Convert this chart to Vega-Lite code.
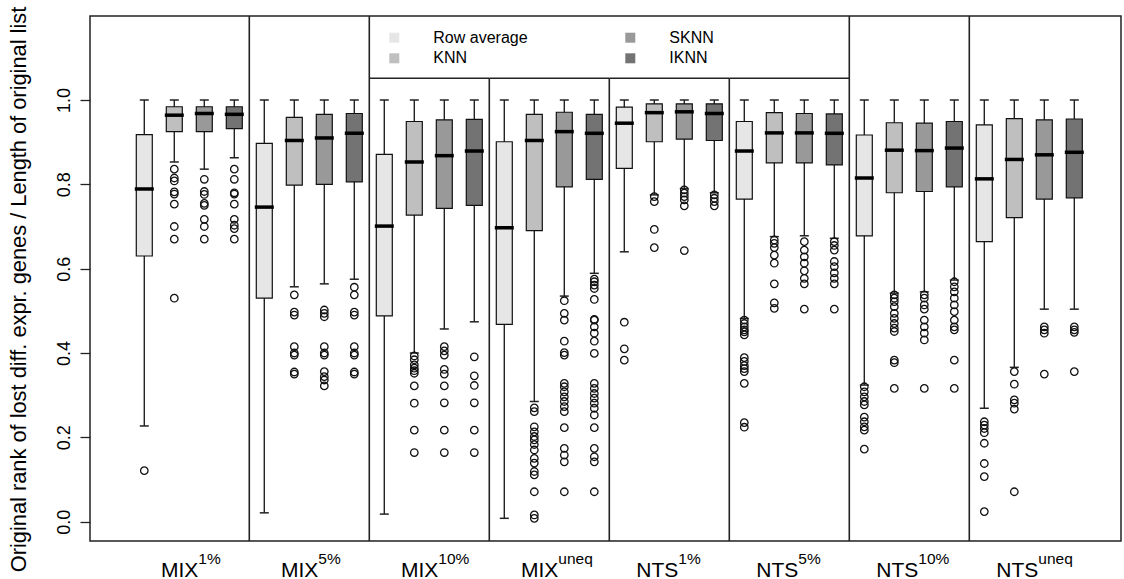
{
"$schema": "https://vega.github.io/schema/vega-lite/v6.json",
"width": 1031, "height": 525,
"autosize": "none",
"padding": {"left": 90, "top": 16, "right": 3, "bottom": 38},
"background": "white",
"config": {"font": "Liberation Sans", "view": {"stroke": "#222", "strokeWidth": 1.5}},
"datasets": {
"groups": [{"g":"MIX1%","sup":"1%"},{"g":"MIX5%","sup":"5%"},{"g":"MIX10%","sup":"10%"},{"g":"MIXuneq","sup":"uneq"},{"g":"NTS1%","sup":"1%"},{"g":"NTS5%","sup":"5%"},{"g":"NTS10%","sup":"10%"},{"g":"NTSuneq","sup":"uneq"}],
"boxes": [
{"g":"MIX1%","m":"Row average","lo":0.227,"q1":0.630,"med":0.789,"q3":0.918,"hi":1.0},
{"g":"MIX1%","m":"KNN","lo":0.853,"q1":0.925,"med":0.964,"q3":0.984,"hi":1.0},
{"g":"MIX1%","m":"SKNN","lo":0.836,"q1":0.925,"med":0.968,"q3":0.984,"hi":1.0},
{"g":"MIX1%","m":"IKNN","lo":0.863,"q1":0.932,"med":0.966,"q3":0.984,"hi":1.0},
{"g":"MIX5%","m":"Row average","lo":0.021,"q1":0.530,"med":0.746,"q3":0.897,"hi":1.0},
{"g":"MIX5%","m":"KNN","lo":0.557,"q1":0.798,"med":0.904,"q3":0.959,"hi":1.0},
{"g":"MIX5%","m":"SKNN","lo":0.564,"q1":0.800,"med":0.910,"q3":0.966,"hi":1.0},
{"g":"MIX5%","m":"IKNN","lo":0.575,"q1":0.806,"med":0.921,"q3":0.968,"hi":1.0},
{"g":"MIX10%","m":"Row average","lo":0.018,"q1":0.488,"med":0.701,"q3":0.871,"hi":1.0},
{"g":"MIX10%","m":"KNN","lo":0.400,"q1":0.727,"med":0.853,"q3":0.949,"hi":1.0},
{"g":"MIX10%","m":"SKNN","lo":0.457,"q1":0.743,"med":0.868,"q3":0.953,"hi":1.0},
{"g":"MIX10%","m":"IKNN","lo":0.474,"q1":0.750,"med":0.879,"q3":0.954,"hi":1.0},
{"g":"MIXuneq","m":"Row average","lo":0.008,"q1":0.468,"med":0.697,"q3":0.901,"hi":1.0},
{"g":"MIXuneq","m":"KNN","lo":0.285,"q1":0.690,"med":0.904,"q3":0.966,"hi":1.0},
{"g":"MIXuneq","m":"SKNN","lo":0.535,"q1":0.794,"med":0.925,"q3":0.971,"hi":1.0},
{"g":"MIXuneq","m":"IKNN","lo":0.589,"q1":0.812,"med":0.921,"q3":0.966,"hi":1.0},
{"g":"NTS1%","m":"Row average","lo":0.640,"q1":0.838,"med":0.945,"q3":0.983,"hi":1.0},
{"g":"NTS1%","m":"KNN","lo":0.775,"q1":0.901,"med":0.970,"q3":0.991,"hi":1.0},
{"g":"NTS1%","m":"SKNN","lo":0.790,"q1":0.907,"med":0.972,"q3":0.991,"hi":1.0},
{"g":"NTS1%","m":"IKNN","lo":0.780,"q1":0.904,"med":0.968,"q3":0.991,"hi":1.0},
{"g":"NTS5%","m":"Row average","lo":0.482,"q1":0.765,"med":0.879,"q3":0.949,"hi":1.0},
{"g":"NTS5%","m":"KNN","lo":0.676,"q1":0.851,"med":0.922,"q3":0.970,"hi":1.0},
{"g":"NTS5%","m":"SKNN","lo":0.678,"q1":0.851,"med":0.922,"q3":0.968,"hi":1.0},
{"g":"NTS5%","m":"IKNN","lo":0.672,"q1":0.846,"med":0.921,"q3":0.967,"hi":1.0},
{"g":"NTS10%","m":"Row average","lo":0.324,"q1":0.678,"med":0.815,"q3":0.917,"hi":1.0},
{"g":"NTS10%","m":"KNN","lo":0.542,"q1":0.780,"med":0.881,"q3":0.946,"hi":1.0},
{"g":"NTS10%","m":"SKNN","lo":0.545,"q1":0.783,"med":0.880,"q3":0.945,"hi":1.0},
{"g":"NTS10%","m":"IKNN","lo":0.573,"q1":0.794,"med":0.886,"q3":0.949,"hi":1.0},
{"g":"NTSuneq","m":"Row average","lo":0.269,"q1":0.664,"med":0.813,"q3":0.941,"hi":1.0},
{"g":"NTSuneq","m":"KNN","lo":0.366,"q1":0.721,"med":0.859,"q3":0.956,"hi":1.0},
{"g":"NTSuneq","m":"SKNN","lo":0.504,"q1":0.765,"med":0.870,"q3":0.953,"hi":1.0},
{"g":"NTSuneq","m":"IKNN","lo":0.504,"q1":0.768,"med":0.876,"q3":0.955,"hi":1.0}
],
"outliers": [
{"g":"MIX1%","m":"Row average","v":0.121},
{"g":"MIX1%","m":"KNN","v":0.836},{"g":"MIX1%","m":"KNN","v":0.815},{"g":"MIX1%","m":"KNN","v":0.808},{"g":"MIX1%","m":"KNN","v":0.782},{"g":"MIX1%","m":"KNN","v":0.777},{"g":"MIX1%","m":"KNN","v":0.753},{"g":"MIX1%","m":"KNN","v":0.700},{"g":"MIX1%","m":"KNN","v":0.670},{"g":"MIX1%","m":"KNN","v":0.530},
{"g":"MIX1%","m":"SKNN","v":0.812},{"g":"MIX1%","m":"SKNN","v":0.783},{"g":"MIX1%","m":"SKNN","v":0.776},{"g":"MIX1%","m":"SKNN","v":0.755},{"g":"MIX1%","m":"SKNN","v":0.750},{"g":"MIX1%","m":"SKNN","v":0.717},{"g":"MIX1%","m":"SKNN","v":0.700},{"g":"MIX1%","m":"SKNN","v":0.670},
{"g":"MIX1%","m":"IKNN","v":0.836},{"g":"MIX1%","m":"IKNN","v":0.812},{"g":"MIX1%","m":"IKNN","v":0.780},{"g":"MIX1%","m":"IKNN","v":0.777},{"g":"MIX1%","m":"IKNN","v":0.753},{"g":"MIX1%","m":"IKNN","v":0.717},{"g":"MIX1%","m":"IKNN","v":0.703},{"g":"MIX1%","m":"IKNN","v":0.695},{"g":"MIX1%","m":"IKNN","v":0.670},
{"g":"MIX5%","m":"KNN","v":0.538},{"g":"MIX5%","m":"KNN","v":0.497},{"g":"MIX5%","m":"KNN","v":0.490},{"g":"MIX5%","m":"KNN","v":0.415},{"g":"MIX5%","m":"KNN","v":0.400},{"g":"MIX5%","m":"KNN","v":0.395},{"g":"MIX5%","m":"KNN","v":0.355},{"g":"MIX5%","m":"KNN","v":0.350},
{"g":"MIX5%","m":"SKNN","v":0.502},{"g":"MIX5%","m":"SKNN","v":0.494},{"g":"MIX5%","m":"SKNN","v":0.486},{"g":"MIX5%","m":"SKNN","v":0.415},{"g":"MIX5%","m":"SKNN","v":0.400},{"g":"MIX5%","m":"SKNN","v":0.395},{"g":"MIX5%","m":"SKNN","v":0.356},{"g":"MIX5%","m":"SKNN","v":0.344},{"g":"MIX5%","m":"SKNN","v":0.336},{"g":"MIX5%","m":"SKNN","v":0.322},
{"g":"MIX5%","m":"IKNN","v":0.556},{"g":"MIX5%","m":"IKNN","v":0.538},{"g":"MIX5%","m":"IKNN","v":0.497},{"g":"MIX5%","m":"IKNN","v":0.490},{"g":"MIX5%","m":"IKNN","v":0.415},{"g":"MIX5%","m":"IKNN","v":0.400},{"g":"MIX5%","m":"IKNN","v":0.395},{"g":"MIX5%","m":"IKNN","v":0.355},{"g":"MIX5%","m":"IKNN","v":0.350},
{"g":"MIX10%","m":"KNN","v":0.393},{"g":"MIX10%","m":"KNN","v":0.384},{"g":"MIX10%","m":"KNN","v":0.372},{"g":"MIX10%","m":"KNN","v":0.364},{"g":"MIX10%","m":"KNN","v":0.358},{"g":"MIX10%","m":"KNN","v":0.352},{"g":"MIX10%","m":"KNN","v":0.322},{"g":"MIX10%","m":"KNN","v":0.281},{"g":"MIX10%","m":"KNN","v":0.217},{"g":"MIX10%","m":"KNN","v":0.164},
{"g":"MIX10%","m":"SKNN","v":0.415},{"g":"MIX10%","m":"SKNN","v":0.405},{"g":"MIX10%","m":"SKNN","v":0.395},{"g":"MIX10%","m":"SKNN","v":0.361},{"g":"MIX10%","m":"SKNN","v":0.350},{"g":"MIX10%","m":"SKNN","v":0.322},{"g":"MIX10%","m":"SKNN","v":0.282},{"g":"MIX10%","m":"SKNN","v":0.217},{"g":"MIX10%","m":"SKNN","v":0.164},
{"g":"MIX10%","m":"IKNN","v":0.391},{"g":"MIX10%","m":"IKNN","v":0.346},{"g":"MIX10%","m":"IKNN","v":0.323},{"g":"MIX10%","m":"IKNN","v":0.282},{"g":"MIX10%","m":"IKNN","v":0.217},{"g":"MIX10%","m":"IKNN","v":0.164},
{"g":"MIXuneq","m":"KNN","v":0.270},{"g":"MIXuneq","m":"KNN","v":0.261},{"g":"MIXuneq","m":"KNN","v":0.225},{"g":"MIXuneq","m":"KNN","v":0.213},{"g":"MIXuneq","m":"KNN","v":0.202},{"g":"MIXuneq","m":"KNN","v":0.194},{"g":"MIXuneq","m":"KNN","v":0.183},{"g":"MIXuneq","m":"KNN","v":0.170},{"g":"MIXuneq","m":"KNN","v":0.150},{"g":"MIXuneq","m":"KNN","v":0.139},{"g":"MIXuneq","m":"KNN","v":0.119},{"g":"MIXuneq","m":"KNN","v":0.111},{"g":"MIXuneq","m":"KNN","v":0.071},{"g":"MIXuneq","m":"KNN","v":0.016},{"g":"MIXuneq","m":"KNN","v":0.008},
{"g":"MIXuneq","m":"SKNN","v":0.524},{"g":"MIXuneq","m":"SKNN","v":0.494},{"g":"MIXuneq","m":"SKNN","v":0.478},{"g":"MIXuneq","m":"SKNN","v":0.428},{"g":"MIXuneq","m":"SKNN","v":0.401},{"g":"MIXuneq","m":"SKNN","v":0.395},{"g":"MIXuneq","m":"SKNN","v":0.328},{"g":"MIXuneq","m":"SKNN","v":0.320},{"g":"MIXuneq","m":"SKNN","v":0.308},{"g":"MIXuneq","m":"SKNN","v":0.296},{"g":"MIXuneq","m":"SKNN","v":0.285},{"g":"MIXuneq","m":"SKNN","v":0.273},{"g":"MIXuneq","m":"SKNN","v":0.261},{"g":"MIXuneq","m":"SKNN","v":0.223},{"g":"MIXuneq","m":"SKNN","v":0.174},{"g":"MIXuneq","m":"SKNN","v":0.158},{"g":"MIXuneq","m":"SKNN","v":0.142},{"g":"MIXuneq","m":"SKNN","v":0.071},
{"g":"MIXuneq","m":"IKNN","v":0.575},{"g":"MIXuneq","m":"IKNN","v":0.569},{"g":"MIXuneq","m":"IKNN","v":0.561},{"g":"MIXuneq","m":"IKNN","v":0.553},{"g":"MIXuneq","m":"IKNN","v":0.527},{"g":"MIXuneq","m":"IKNN","v":0.480},{"g":"MIXuneq","m":"IKNN","v":0.478},{"g":"MIXuneq","m":"IKNN","v":0.462},{"g":"MIXuneq","m":"IKNN","v":0.447},{"g":"MIXuneq","m":"IKNN","v":0.428},{"g":"MIXuneq","m":"IKNN","v":0.399},{"g":"MIXuneq","m":"IKNN","v":0.328},{"g":"MIXuneq","m":"IKNN","v":0.316},{"g":"MIXuneq","m":"IKNN","v":0.304},{"g":"MIXuneq","m":"IKNN","v":0.293},{"g":"MIXuneq","m":"IKNN","v":0.281},{"g":"MIXuneq","m":"IKNN","v":0.269},{"g":"MIXuneq","m":"IKNN","v":0.253},{"g":"MIXuneq","m":"IKNN","v":0.223},{"g":"MIXuneq","m":"IKNN","v":0.174},{"g":"MIXuneq","m":"IKNN","v":0.154},{"g":"MIXuneq","m":"IKNN","v":0.142},{"g":"MIXuneq","m":"IKNN","v":0.071},
{"g":"NTS1%","m":"Row average","v":0.473},{"g":"NTS1%","m":"Row average","v":0.410},{"g":"NTS1%","m":"Row average","v":0.383},
{"g":"NTS1%","m":"KNN","v":0.771},{"g":"NTS1%","m":"KNN","v":0.759},{"g":"NTS1%","m":"KNN","v":0.693},{"g":"NTS1%","m":"KNN","v":0.650},
{"g":"NTS1%","m":"SKNN","v":0.787},{"g":"NTS1%","m":"SKNN","v":0.779},{"g":"NTS1%","m":"SKNN","v":0.771},{"g":"NTS1%","m":"SKNN","v":0.763},{"g":"NTS1%","m":"SKNN","v":0.749},{"g":"NTS1%","m":"SKNN","v":0.643},
{"g":"NTS1%","m":"IKNN","v":0.775},{"g":"NTS1%","m":"IKNN","v":0.767},{"g":"NTS1%","m":"IKNN","v":0.759},{"g":"NTS1%","m":"IKNN","v":0.749},
{"g":"NTS5%","m":"Row average","v":0.478},{"g":"NTS5%","m":"Row average","v":0.470},{"g":"NTS5%","m":"Row average","v":0.462},{"g":"NTS5%","m":"Row average","v":0.455},{"g":"NTS5%","m":"Row average","v":0.450},{"g":"NTS5%","m":"Row average","v":0.443},{"g":"NTS5%","m":"Row average","v":0.389},{"g":"NTS5%","m":"Row average","v":0.380},{"g":"NTS5%","m":"Row average","v":0.370},{"g":"NTS5%","m":"Row average","v":0.363},{"g":"NTS5%","m":"Row average","v":0.356},{"g":"NTS5%","m":"Row average","v":0.328},{"g":"NTS5%","m":"Row average","v":0.235},{"g":"NTS5%","m":"Row average","v":0.224},
{"g":"NTS5%","m":"KNN","v":0.668},{"g":"NTS5%","m":"KNN","v":0.660},{"g":"NTS5%","m":"KNN","v":0.650},{"g":"NTS5%","m":"KNN","v":0.632},{"g":"NTS5%","m":"KNN","v":0.613},{"g":"NTS5%","m":"KNN","v":0.564},{"g":"NTS5%","m":"KNN","v":0.519},{"g":"NTS5%","m":"KNN","v":0.506},
{"g":"NTS5%","m":"SKNN","v":0.664},{"g":"NTS5%","m":"SKNN","v":0.644},{"g":"NTS5%","m":"SKNN","v":0.628},{"g":"NTS5%","m":"SKNN","v":0.613},{"g":"NTS5%","m":"SKNN","v":0.595},{"g":"NTS5%","m":"SKNN","v":0.577},{"g":"NTS5%","m":"SKNN","v":0.564},{"g":"NTS5%","m":"SKNN","v":0.504},
{"g":"NTS5%","m":"IKNN","v":0.664},{"g":"NTS5%","m":"IKNN","v":0.655},{"g":"NTS5%","m":"IKNN","v":0.644},{"g":"NTS5%","m":"IKNN","v":0.617},{"g":"NTS5%","m":"IKNN","v":0.605},{"g":"NTS5%","m":"IKNN","v":0.590},{"g":"NTS5%","m":"IKNN","v":0.577},{"g":"NTS5%","m":"IKNN","v":0.564},{"g":"NTS5%","m":"IKNN","v":0.504},
{"g":"NTS10%","m":"Row average","v":0.320},{"g":"NTS10%","m":"Row average","v":0.308},{"g":"NTS10%","m":"Row average","v":0.296},{"g":"NTS10%","m":"Row average","v":0.285},{"g":"NTS10%","m":"Row average","v":0.277},{"g":"NTS10%","m":"Row average","v":0.248},{"g":"NTS10%","m":"Row average","v":0.237},{"g":"NTS10%","m":"Row average","v":0.225},{"g":"NTS10%","m":"Row average","v":0.217},{"g":"NTS10%","m":"Row average","v":0.172},
{"g":"NTS10%","m":"KNN","v":0.538},{"g":"NTS10%","m":"KNN","v":0.530},{"g":"NTS10%","m":"KNN","v":0.522},{"g":"NTS10%","m":"KNN","v":0.510},{"g":"NTS10%","m":"KNN","v":0.494},{"g":"NTS10%","m":"KNN","v":0.482},{"g":"NTS10%","m":"KNN","v":0.470},{"g":"NTS10%","m":"KNN","v":0.459},{"g":"NTS10%","m":"KNN","v":0.451},{"g":"NTS10%","m":"KNN","v":0.383},{"g":"NTS10%","m":"KNN","v":0.377},{"g":"NTS10%","m":"KNN","v":0.316},
{"g":"NTS10%","m":"SKNN","v":0.538},{"g":"NTS10%","m":"SKNN","v":0.530},{"g":"NTS10%","m":"SKNN","v":0.514},{"g":"NTS10%","m":"SKNN","v":0.504},{"g":"NTS10%","m":"SKNN","v":0.478},{"g":"NTS10%","m":"SKNN","v":0.462},{"g":"NTS10%","m":"SKNN","v":0.447},{"g":"NTS10%","m":"SKNN","v":0.431},{"g":"NTS10%","m":"SKNN","v":0.316},
{"g":"NTS10%","m":"IKNN","v":0.569},{"g":"NTS10%","m":"IKNN","v":0.557},{"g":"NTS10%","m":"IKNN","v":0.545},{"g":"NTS10%","m":"IKNN","v":0.530},{"g":"NTS10%","m":"IKNN","v":0.514},{"g":"NTS10%","m":"IKNN","v":0.498},{"g":"NTS10%","m":"IKNN","v":0.478},{"g":"NTS10%","m":"IKNN","v":0.462},{"g":"NTS10%","m":"IKNN","v":0.455},{"g":"NTS10%","m":"IKNN","v":0.383},{"g":"NTS10%","m":"IKNN","v":0.316},
{"g":"NTSuneq","m":"Row average","v":0.237},{"g":"NTSuneq","m":"Row average","v":0.229},{"g":"NTSuneq","m":"Row average","v":0.221},{"g":"NTSuneq","m":"Row average","v":0.211},{"g":"NTSuneq","m":"Row average","v":0.186},{"g":"NTSuneq","m":"Row average","v":0.138},{"g":"NTSuneq","m":"Row average","v":0.107},{"g":"NTSuneq","m":"Row average","v":0.024},
{"g":"NTSuneq","m":"KNN","v":0.356},{"g":"NTSuneq","m":"KNN","v":0.326},{"g":"NTSuneq","m":"KNN","v":0.289},{"g":"NTSuneq","m":"KNN","v":0.281},{"g":"NTSuneq","m":"KNN","v":0.267},{"g":"NTSuneq","m":"KNN","v":0.071},
{"g":"NTSuneq","m":"SKNN","v":0.462},{"g":"NTSuneq","m":"SKNN","v":0.455},{"g":"NTSuneq","m":"SKNN","v":0.447},{"g":"NTSuneq","m":"SKNN","v":0.350},
{"g":"NTSuneq","m":"IKNN","v":0.462},{"g":"NTSuneq","m":"IKNN","v":0.455},{"g":"NTSuneq","m":"IKNN","v":0.449},{"g":"NTSuneq","m":"IKNN","v":0.356}
]
},
"encoding": {
"x": {"field": "g", "type": "nominal", "title": null, "scale": {"type": "band", "domain": ["MIX1%","MIX5%","MIX10%","MIXuneq","NTS1%","NTS5%","NTS10%","NTSuneq"], "paddingInner": 0, "paddingOuter": 0.2958, "align": 0.5535},
"axis": {"title": null, "ticks": false, "tickSize": 0, "domain": false, "grid": false, "labelExpr": "slice(datum.value, 0, 3)", "labelAlign": "right", "labelOffset": 9, "labelFontSize": 21, "labelBaseline": "alphabetic", "labelPadding": 35, "labelColor": "black", "labelAngle": 0}}
},
"layer": [
{
"data": {"name": "boxes"},
"mark": {"type": "rule", "color": "#222", "strokeWidth": 1.4},
"encoding": {
"xOffset": {"field": "m", "type": "nominal", "scale": {"domain": ["Row average","KNN","SKNN","IKNN"], "paddingInner": 0, "paddingOuter": 0}},
"y": {"field": "lo", "type": "quantitative", "title": "Original rank of lost diff. expr. genes / Length of original list", "scale": {"domain": [-0.0458, 1.1992], "nice": false, "zero": false},
"axis": {"values": [0, 0.2, 0.4, 0.6, 0.8, 1.0], "format": ".1f", "titleFontSize": 21.8, "titleFontWeight": "normal", "titleColor": "black", "titleAngle": -90, "titleBaseline": "alphabetic", "titleAlign": "center", "titleX": -65, "titleY": 273, "labelAngle": -90, "labelAlign": "center", "labelBaseline": "bottom", "labelFontSize": 18, "labelColor": "black", "labelPadding": 7, "tickSize": 10, "tickColor": "#222", "tickWidth": 1.3, "domain": false, "grid": false}},
"y2": {"field": "hi"}
}
},
{
"data": {"name": "groups"},
"transform": [{"filter": {"field": "g", "oneOf": ["MIX5%","MIX10%","NTS10%","NTSuneq"]}}],
"mark": {"type": "rule", "color": "#222", "strokeWidth": 1.6},
"encoding": {
"x": {"field": "g", "type": "nominal", "bandPosition": 0, "title": null},
"y": {"datum": -0.0458, "type": "quantitative"},
"y2": {"datum": 1.1992}
}
},
{
"data": {"name": "groups"},
"transform": [{"filter": {"field": "g", "oneOf": ["MIXuneq","NTS1%","NTS5%"]}}],
"mark": {"type": "rule", "color": "#222", "strokeWidth": 1.6},
"encoding": {
"x": {"field": "g", "type": "nominal", "bandPosition": 0, "title": null},
"y": {"datum": -0.0458, "type": "quantitative"},
"y2": {"datum": 1.0515}
}
},
{
"data": {"name": "groups"},
"transform": [{"filter": {"field": "g", "oneOf": ["MIX10%","MIXuneq","NTS1%","NTS5%"]}}],
"mark": {"type": "tick", "color": "#222", "size": 120, "thickness": 1.6, "opacity": 1},
"encoding": {
"y": {"datum": 1.0515, "type": "quantitative"}
}
},
{
"data": {"name": "boxes"},
"mark": {"type": "tick", "color": "#222", "size": 9, "thickness": 1.5, "opacity": 1},
"encoding": {
"xOffset": {"field": "m", "type": "nominal"},
"y": {"field": "lo", "type": "quantitative"}
}
},
{
"data": {"name": "boxes"},
"mark": {"type": "tick", "color": "#222", "size": 9, "thickness": 1.5, "opacity": 1},
"encoding": {
"xOffset": {"field": "m", "type": "nominal"},
"y": {"field": "hi", "type": "quantitative"}
}
},
{
"data": {"name": "boxes"},
"mark": {"type": "bar", "width": 16, "stroke": "#111", "strokeWidth": 1.2, "opacity": 1},
"encoding": {
"xOffset": {"field": "m", "type": "nominal"},
"y": {"field": "q1", "type": "quantitative"},
"y2": {"field": "q3"},
"fill": {"field": "m", "type": "nominal",
"scale": {"domain": ["Row average","KNN","SKNN","IKNN"], "range": ["#e6e6e6","#bfbfbf","#999999","#737373"]},
"legend": {"orient": "none", "legendX": 296.3, "legendY": 13.7, "columns": 2, "direction": "vertical", "title": null, "symbolType": "square", "symbolSize": 100, "labelFontSize": 16, "labelColor": "black", "labelOffset": 31, "columnPadding": 94, "rowPadding": 4.6, "padding": 0, "symbolStrokeWidth": 0, "symbolOpacity": 1,
"encode": {"symbols": {"update": {"strokeWidth": {"value": 0}, "stroke": {"value": "transparent"}}}}}}
}
},
{
"data": {"name": "boxes"},
"mark": {"type": "tick", "color": "black", "size": 19, "thickness": 3.5, "opacity": 1},
"encoding": {
"xOffset": {"field": "m", "type": "nominal"},
"y": {"field": "med", "type": "quantitative"}
}
},
{
"data": {"name": "outliers"},
"mark": {"type": "point", "shape": "circle", "filled": false, "size": 56, "color": "#111", "strokeWidth": 1.3, "opacity": 1},
"encoding": {
"xOffset": {"field": "m", "type": "nominal"},
"y": {"field": "v", "type": "quantitative"}
}
},
{
"data": {"name": "groups"},
"mark": {"type": "text", "align": "left", "baseline": "alphabetic", "dx": 9, "fontSize": 15.5, "color": "black"},
"encoding": {
"y": {"datum": -0.1, "type": "quantitative"},
"text": {"field": "sup"}
}
}
]
}
